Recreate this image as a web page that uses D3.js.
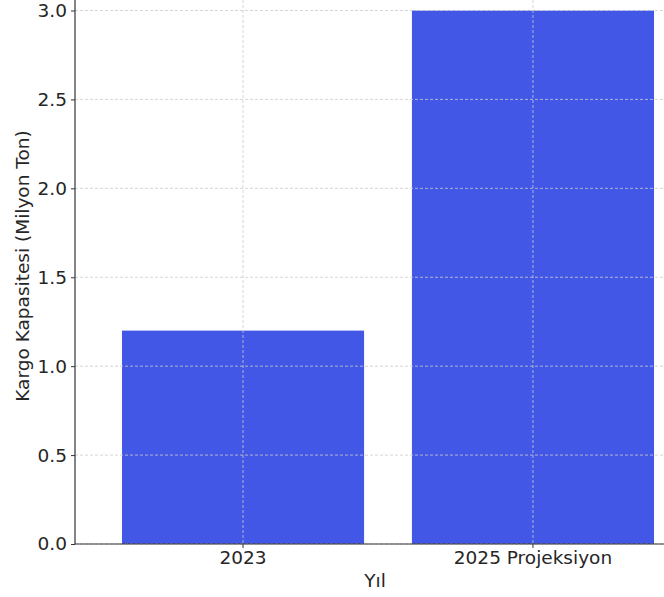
<!DOCTYPE html>
<html>
<head>
<meta charset="utf-8">
<script src="https://cdn.jsdelivr.net/npm/d3@7"></script>
<style>
  body { margin: 0; background: #fff; }
  svg { display: block; font-family: "DejaVu Sans", sans-serif; }
</style>
</head>
<body>
<div id="dataViz"></div>
<script>
const width = 664;
const height = 597;

// Data
const years = ["2023", "2025 Projeksiyon"];
const capacity = [1.2, 3.0];
const yTicks = [0, 0.5, 1.0, 1.5, 2.0, 2.5, 3.0];

const colours = {
  bar: "#4257e5",
  grid: "#cccccc",
  axis: "#333333",
  text: "#262626"
};

const fontSize = "18.5px";

const svg = d3.select("#dataViz").append("svg")
  .attr("width", width)
  .attr("height", height);

// Scales (plot runs past the right edge, as in the reference crop)
const xScale = d3.scaleBand()
  .domain(years)
  .range([75, 701])
  .paddingInner(0.165)
  .paddingOuter(0.162);

const yScale = d3.scaleLinear()
  .domain([0, 3])
  .range([544, 10.5]);

// Bars
svg.selectAll(".bar")
  .data(years.map((y, i) => ({ year: y, value: capacity[i] })))
  .enter()
  .append("rect")
  .attr("class", "bar")
  .attr("x", d => xScale(d.year))
  .attr("y", d => yScale(d.value))
  .attr("width", xScale.bandwidth())
  .attr("height", d => yScale(0) - yScale(d.value))
  .style("fill", colours.bar);

// Grid lines over the bars
const grid = svg.append("g").attr("class", "grid")
  .attr("stroke", colours.grid)
  .attr("stroke-width", 0.8)
  .attr("stroke-dasharray", "3,2");

grid.selectAll(".hgrid")
  .data(yTicks)
  .enter()
  .append("line")
  .attr("x1", 75)
  .attr("x2", width)
  .attr("y1", d => yScale(d))
  .attr("y2", d => yScale(d));

grid.selectAll(".vgrid")
  .data(years)
  .enter()
  .append("line")
  .attr("x1", d => xScale(d) + xScale.bandwidth() / 2)
  .attr("x2", d => xScale(d) + xScale.bandwidth() / 2)
  .attr("y1", 0)
  .attr("y2", 544);

// Axes
const yAxis = svg.append("g")
  .attr("transform", "translate(75, 0)")
  .call(d3.axisLeft(yScale).tickValues(yTicks).tickFormat(d3.format(".1f")).tickSize(4).tickPadding(4));

const xAxis = svg.append("g")
  .attr("transform", "translate(0, 544)")
  .call(d3.axisBottom(xScale).tickSize(4).tickPadding(3));

[xAxis, yAxis].forEach(ax => {
  ax.select(".domain").remove();
  ax.selectAll("line").attr("stroke", colours.axis);
  ax.selectAll("text")
    .style("font-size", fontSize)
    .style("font-family", "DejaVu Sans, sans-serif")
    .attr("fill", colours.text);
});

// Spines
svg.append("line")
  .attr("x1", 75).attr("x2", 75)
  .attr("y1", 0).attr("y2", 544)
  .attr("stroke", colours.axis).attr("stroke-width", 1.2);

svg.append("line")
  .attr("x1", 75).attr("x2", width)
  .attr("y1", 544).attr("y2", 544)
  .attr("stroke", colours.axis).attr("stroke-width", 1.2);

// Axis labels
svg.append("text")
  .attr("x", 375)
  .attr("y", 587)
  .style("text-anchor", "middle")
  .style("font-size", fontSize)
  .attr("fill", colours.text)
  .text("Yıl");

svg.append("text")
  .attr("transform", "rotate(-90)")
  .attr("x", -266)
  .attr("y", 29)
  .style("text-anchor", "middle")
  .style("font-size", fontSize)
  .attr("fill", colours.text)
  .text("Kargo Kapasitesi (Milyon Ton)");
</script>
</body>
</html>
